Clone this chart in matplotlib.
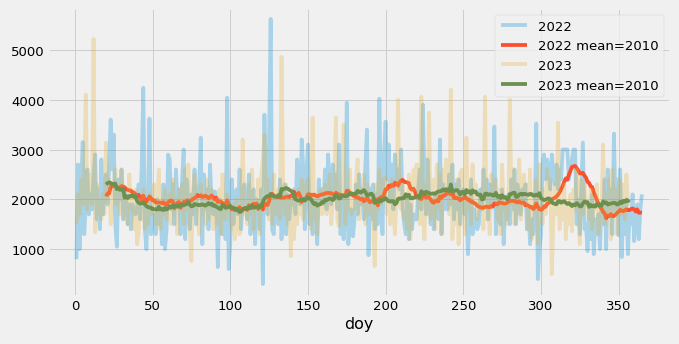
import matplotlib
matplotlib.use("Agg")
import matplotlib.pyplot as plt
import numpy as np
import pandas as pd

# daily values (day of year 1..N)
vals_2022 = [
    800, 2700, 1000, 2300, 3150, 1300, 1900, 2600, 1700, 2100,
    1800, 2500, 2900, 1600, 2200, 1400, 2800, 1700, 2300, 2500,
    1900, 2700, 3600, 2600, 3300, 1500, 1050, 2400, 2000, 2600,
    1600, 2200, 2000, 1500, 1900, 1400, 1900, 1800, 1700, 1800,
    2300, 1600, 2700, 4240, 1400, 1000, 1900, 3620, 1300, 1700,
    1700, 1300, 2000, 1500, 1900, 1100, 2300, 1000, 1400, 2900,
    2800, 1800, 2300, 1500, 2600, 2000, 2200, 1300, 2400, 3000,
    1200, 2400, 1900, 1400, 2100, 1700, 2600, 1500, 2200, 2300,
    3240, 1100, 2500, 1800, 2200, 1400, 2700, 1900, 1700, 2160,
    1900, 640, 2000, 1500, 1300, 1800, 1200, 4040, 600, 1120,
    2400, 1500, 1900, 2200, 1700, 2600, 1400, 2000, 2300, 2000,
    1600, 2500, 1300, 1900, 2200, 1100, 2000, 1800, 1400, 2200,
    300, 3700, 2000, 1700, 3200, 5620, 1400, 1300, 2000, 1780,
    1500, 2400, 1200, 1900, 2300, 1300, 2100, 1600, 2000, 1900,
    2200, 1700, 2800, 2400, 1900, 3200, 2600, 1400, 2500, 3100,
    1500, 2100, 1300, 2000, 1800, 1100, 2400, 1900, 2200, 1900,
    2600, 1800, 2900, 2300, 1900, 2700, 2200, 2500, 1800, 3100,
    1300, 2000, 1200, 1700, 3940, 1100, 1500, 1800, 1260, 1600,
    2300, 1700, 2500, 1900, 2200, 1600, 2700, 3400, 880, 2220,
    1600, 2300, 1400, 2100, 1500, 4020, 1900, 1300, 2920, 3560,
    2400, 3100, 2000, 2700, 1800, 2900, 2300, 2600, 2200, 3000,
    1800, 1500, 1300, 2000, 1200, 1900, 1400, 1700, 1600, 1600,
    2200, 2600, 1800, 3900, 2400, 1700, 2800, 2100, 1500, 2000,
    1400, 2100, 1700, 1600, 3200, 1300, 2300, 1800, 2200, 1800,
    2500, 1900, 2700, 1600, 2300, 1800, 2400, 1500, 2100, 2200,
    1700, 2000, 900, 1600, 2400, 1300, 1800, 1500, 1400, 1500,
    2200, 1800, 2600, 2000, 2400, 1600, 2300, 2100, 1840, 3460,
    1300, 2000, 1700, 1500, 2200, 1100, 1900, 1600, 2100, 1500,
    2400, 1800, 2600, 1500, 2300, 2000, 1700, 2200, 1900, 2300,
    1400, 1800, 1100, 1600, 1300, 1700, 3520, 400, 1000, 1280,
    2700, 2900, 2400, 2800, 2600, 2200, 2900, 2500, 2300, 2700,
    2200, 2600, 2400, 3000, 3000, 3000, 3000, 2400, 2600, 2800,
    3000, 3000, 1500, 2000, 1300, 2200, 3140, 1400, 1500, 960,
    1800, 1200, 2100, 900, 1600, 1300, 1700, 1000, 1900, 1500,
    2400, 1000, 2600, 1700, 2200, 1300, 3320, 1800, 2400, 1280,
    2600, 840, 1900, 1300, 2000, 900, 1700, 1500, 2100, 1160,
    1500, 1900, 1200, 1800, 2100,
]

vals_2023 = [
    1500, 2100, 1700, 2400, 1900, 2600, 4100, 1800, 2500, 2400,
    1900, 5220, 1340, 2300, 1700, 2000, 1600, 2100, 1700, 3140,
    2000, 2400, 1500, 1800, 2200, 2600, 1900, 2300, 1700, 2600,
    2200, 1600, 2000, 1500, 2500, 1800, 2100, 1400, 2200, 1100,
    1300, 2000, 1600, 2200, 1400, 1900, 1500, 2100, 1700, 1900,
    2300, 1500, 1900, 2600, 1400, 2000, 1700, 2200, 1600, 1600,
    2100, 1500, 2400, 1700, 2000, 1300, 2200, 1800, 2300, 1500,
    2600, 1800, 2700, 1400, 760, 2200, 2500, 1900, 1640, 1300,
    2300, 1700, 2100, 1500, 2400, 1900, 1600, 2200, 1400, 1700,
    2000, 1500, 2200, 1300, 2500, 1800, 1600, 2100, 1900, 1700,
    1400, 1900, 1200, 2000, 1600, 1300, 1800, 3200, 1700, 1900,
    1500, 2300, 1700, 2600, 1400, 2000, 1800, 2400, 1300, 2500,
    2800, 3300, 1800, 2400, 1600, 2100, 1500, 2500, 1700, 1800,
    2200, 1600, 4860, 2400, 1700, 2300, 1500, 2000, 860, 2080,
    1200, 1900, 1500, 2200, 1700, 2400, 1600, 2000, 2300, 2400,
    1800, 1400, 3640, 1600, 2100, 1300, 1900, 2200, 1700, 1860,
    2300, 1700, 2000, 2500, 1500, 1900, 2200, 3640, 1600, 1460,
    2000, 2400, 3500, 1500, 2100, 1800, 2600, 1700, 2000, 1800,
    2400, 2800, 1600, 2200, 1900, 2500, 1500, 2300, 1700, 1900,
    2100, 1500, 660, 2300, 1800, 2600, 1900, 2400, 2000, 2440,
    1700, 2200, 1500, 2400, 1800, 1300, 2000, 4000, 1900, 1800,
    2300, 1600, 2100, 1400, 2500, 1200, 1900, 2600, 2200, 2700,
    2000, 1500, 4060, 1800, 1200, 2300, 1700, 3740, 1600, 1900,
    2400, 1400, 2700, 1800, 2500, 1300, 2600, 2100, 2800, 2200,
    1700, 4200, 1200, 2000, 1500, 2400, 1100, 2500, 2600, 2000,
    1300, 3240, 1800, 2200, 1500, 2700, 1900, 2300, 1600, 2100,
    1800, 2200, 1400, 4060, 1600, 1900, 1300, 2500, 2100, 2040,
    2400, 1600, 2200, 1300, 2700, 1800, 2000, 1500, 1700, 4000,
    1900, 2600, 1500, 2300, 1700, 2800, 1600, 2100, 2500, 1900,
    2300, 1400, 2600, 1200, 2100, 1800, 2400, 1100, 2700, 2000,
    1500, 2200, 1700, 2600, 1900, 2400, 500, 1600, 2300, 1700,
    3540, 1400, 2000, 1600, 2300, 1200, 1900, 1500, 2100, 1360,
    2200, 1800, 2600, 2100, 1100, 2400, 1700, 2300, 1900, 1900,
    1600, 2200, 1400, 2000, 1800, 2300, 1300, 1700, 1800, 3100,
    1500, 2100, 1700, 2400, 1200, 2600, 1800, 2200, 1300, 2200,
    2400, 1700, 2300, 1600, 2500, 1900, 1880,
]

years = ["2022", "2023"]
mean_labels = [2010, 2010]
window = 20

plt.style.use("fivethirtyeight")

fig, ax = plt.subplots(figsize=(10, 5.081))
fig.subplots_adjust(left=0.071, right=0.987, top=0.974, bottom=0.139)

raw_colors = ["#008fd5", "#e5ae38"]
mean_colors = ["#fc4f30", "#6d904f"]

for i, (year, vals) in enumerate(zip(years, [vals_2022, vals_2023])):
    s = pd.Series(vals, index=np.arange(1, len(vals) + 1))
    ax.plot(s.index, s.values, color=raw_colors[i], alpha=0.3, label=year)
    # trailing rolling mean
    roll = s.rolling(window).mean()
    ax.plot(roll.index, roll.values, color=mean_colors[i],
            label="%s mean=%d" % (year, mean_labels[i]))

ax.set_xlim(-17.2, 383.2)
ax.set_ylim(60, 5840)
ax.set_xticks(np.arange(0, 351, 50))
ax.set_yticks(np.arange(1000, 5001, 1000))
ax.set_xlabel("doy")
ax.legend(loc="upper right")

fig.savefig("out.png", dpi=67.9)
